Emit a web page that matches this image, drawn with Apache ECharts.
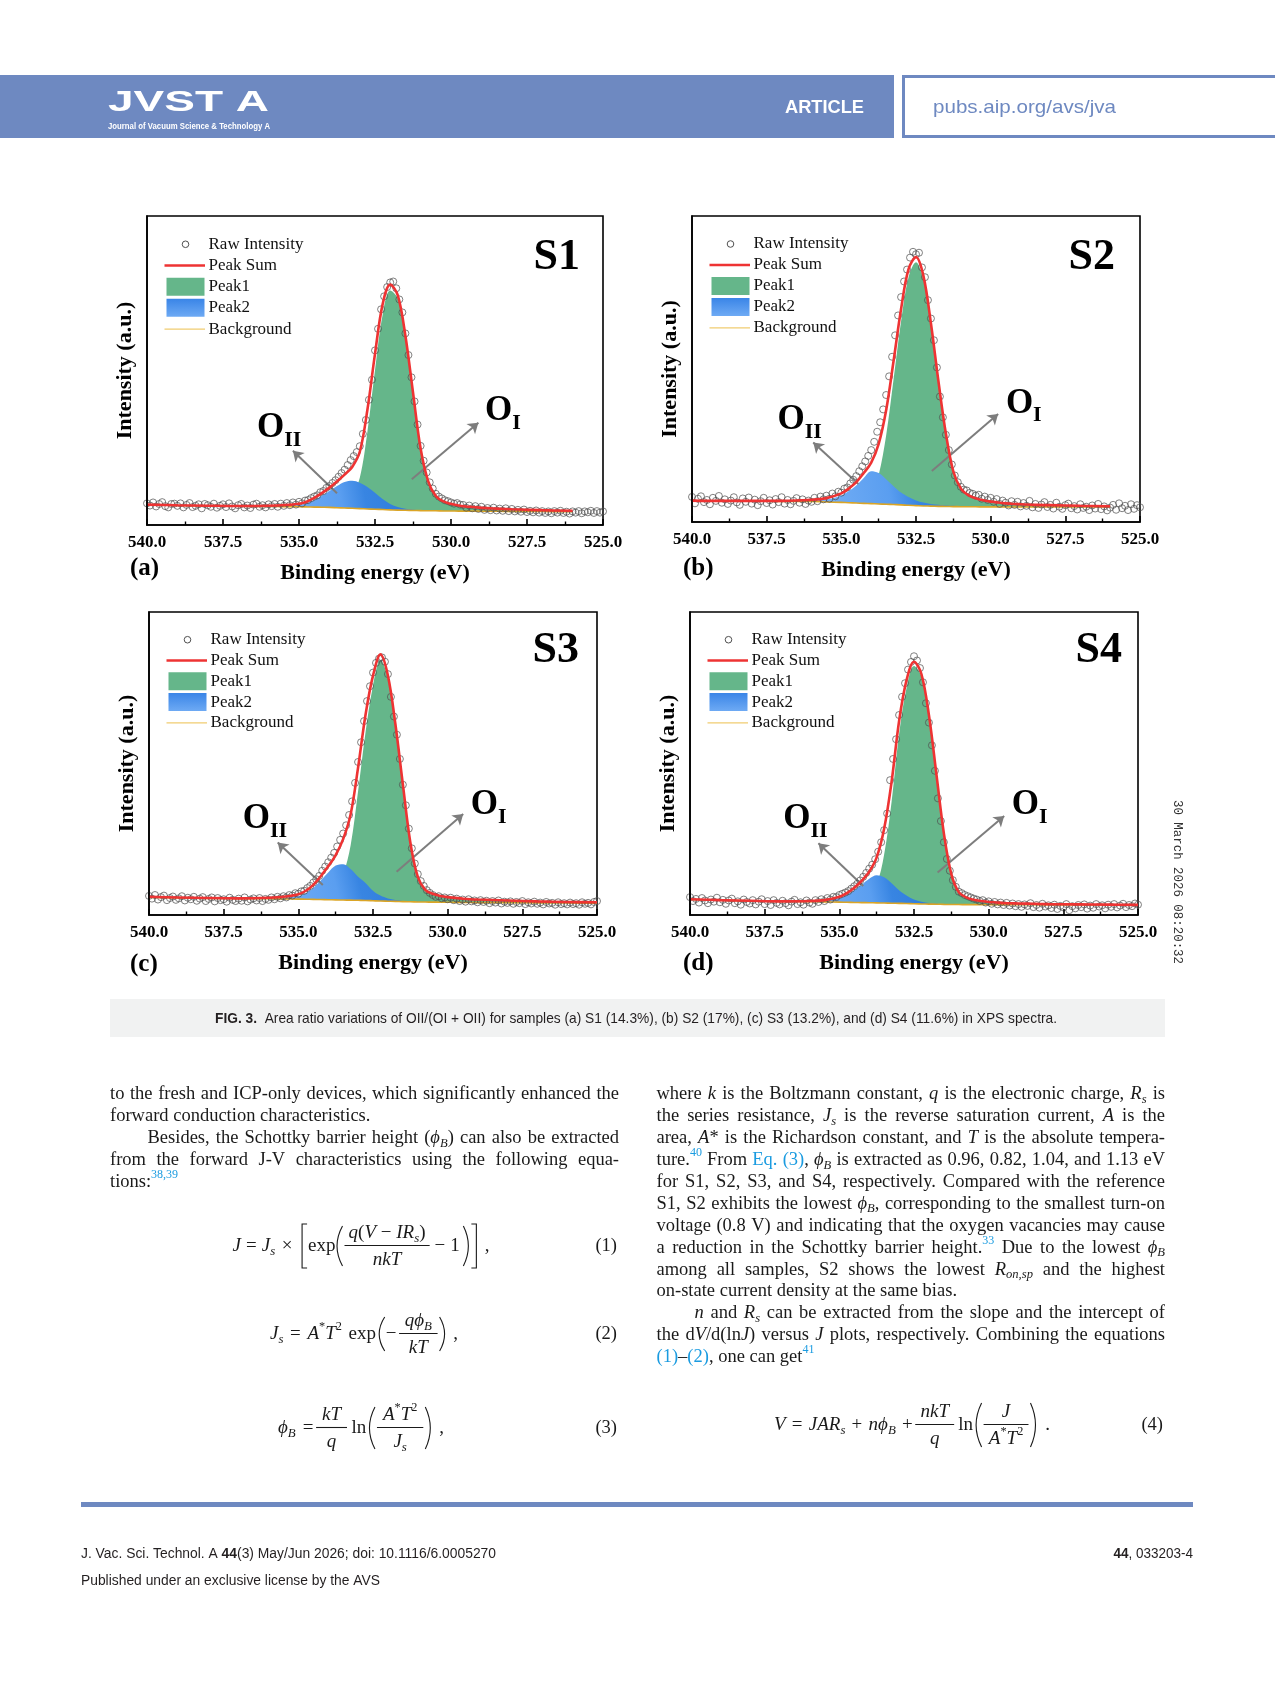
<!DOCTYPE html>
<html>
<head>
<meta charset="utf-8">
<title>XPS O 1s spectra S1-S4</title>
<script src="https://cdn.jsdelivr.net/npm/echarts@6.0.0/dist/echarts.min.js"></script>
<style>
html,body{margin:0;padding:0;background:#ffffff;}
#chart{width:1275px;height:1688px;}
</style>
</head>
<body>
<div id="chart"></div>
<script>
// ================= DATA (intensity in % of plot height) =================
const curveEnergy = [540,539,538,537,536,535.5,535,534.75,534.5,534.25,534,533.75,533.5,533.25,533,532.75,532.5,532.25,532,531.75,531.5,531.25,531,530.75,530.5,530.25,530,529.75,529.5,529.25,529,528.5,528,527,526,525];
const rawStart = 540, rawStep = 0.1;

// ---- S1 ----
const bgS1  = [6.5,6.3,6.15,6.05,6.0,5.95,5.9,5.85,5.8,5.75,5.7,5.6,5.5,5.4,5.3,5.2,5.1,5.0,4.9,4.8,4.75,4.7,4.65,4.6,4.6,4.55,4.55,4.5,4.5,4.5,4.45,4.45,4.4,4.35,4.3,null];
const p1S1  = [0,0,0,0.1,0.2,0.3,0.4,0.5,0.65,0.85,1.1,1.5,2.4,4.5,10,25,45,63,71,68.5,56,38,20,9.5,4.8,3.1,2.3,1.8,1.5,1.3,1.1,0.85,0.7,0.45,0.3,null];
const p2S1  = [null,null,null,null,0.05,0.2,0.6,1.2,2.3,3.7,5.3,7.0,8.4,8.9,8.4,7.1,5.3,3.4,1.9,1.0,0.5,0.2,0.1,0.05,null,null,null,null,null,null,null,null,null,null,null,null];
const sumS1 = [6.6,6.4,6.25,6.15,6.25,6.45,6.9,7.55,8.75,10.3,12.1,14.1,16.3,18.8,23.7,37.3,55.4,71.4,77.8,74.3,61.25,42.9,24.75,14.15,9.4,7.65,6.85,6.3,6.0,5.8,5.55,5.3,5.1,4.8,4.6,null];
const rawS1 = [7.0,6.3,7.3,6.0,6.8,7.4,6.1,5.7,6.8,6.9,
 6.2,7.0,5.7,6.5,7.1,5.8,6.2,6.7,5.4,6.8,
 6.4,5.9,6.9,5.6,6.2,6.7,5.8,7.0,6.0,5.4,
 6.4,6.8,5.7,6.3,5.5,6.6,6.9,5.9,6.4,5.7,
 6.7,6.1,6.8,5.9,6.9,6.2,7.1,6.4,7.3,6.6,
 7.5,7.0,7.9,8.1,8.7,9.2,9.6,10.6,11.0,12.0,
 12.6,13.6,14.5,15.6,16.8,17.9,19.4,21.0,22.3,23.6,
 25.5,29.5,34.0,40.5,47.0,56.5,63.5,69.8,74.0,77.0,
 78.5,78.8,76.6,73.0,68.8,62.0,55.0,47.8,40.0,32.5,
 25.6,20.8,17.0,13.8,11.8,10.1,9.2,8.6,8.0,7.7,
 7.3,6.9,7.1,6.6,6.5,5.6,6.3,5.4,6.1,5.2,
 5.9,4.9,5.5,4.8,5.6,4.7,5.3,4.6,5.4,4.5,
 5.2,4.4,4.9,4.3,5.0,4.2,4.6,4.1,4.7,4.0,
 4.5,3.9,4.4,3.8,4.5,4.0,4.6,3.9,4.3,3.7,
 4.4,4.0,4.5,3.8,4.4,4.1,4.6,3.9,4.5,4.0,
 4.4];

// ---- S2 ----
const bgS2  = [6.9,6.85,6.8,6.75,6.7,6.55,6.4,6.3,6.2,6.1,6.0,5.9,5.8,5.7,5.6,5.45,5.35,5.25,5.2,5.12,5.08,5.04,5.0,4.98,4.96,4.95,4.94,4.93,4.92,4.92,4.91,4.9,4.9,4.9,4.9,null];
const p1S2  = [0,0,0.1,0.15,0.35,0.45,0.65,0.85,1.1,1.6,2.8,9.5,22.5,41,60,74.5,79.5,74,59,40.5,23.5,11.2,5.8,3.7,2.7,2.1,1.7,1.4,1.2,1.0,0.9,0.7,0.6,0.4,0.25,null];
const p2S2  = [null,null,null,null,0.2,0.8,2.3,3.8,5.7,8.3,10.6,10.1,8.2,6.0,4.0,2.7,1.7,1.1,0.7,0.5,0.3,0.25,0.2,0.15,0.1,0.05,null,null,null,null,null,null,null,null,null,null];
const sumS2 = [7.0,6.9,6.9,6.9,7.25,7.8,9.35,10.95,13.0,16.0,19.4,25.5,36.5,52.7,69.6,82.65,86.55,80.35,64.9,46.1,28.9,16.5,11.0,8.8,7.75,7.1,6.65,6.35,6.1,5.9,5.8,5.6,5.5,5.3,5.15,null];
const rawS2 = [8.2,6.1,7.6,8.4,6.5,7.2,5.8,7.9,6.9,8.5,
 6.3,7.4,5.9,7.0,8.1,6.4,5.6,7.7,6.6,8.0,
 6.0,7.3,5.5,6.8,7.9,6.2,7.1,5.7,7.5,6.5,
 8.1,6.0,7.2,5.8,6.9,7.8,6.3,7.4,5.9,7.0,
 6.6,7.9,6.8,8.3,7.4,8.6,7.6,9.3,8.4,9.9,
 9.6,10.9,11.3,12.6,13.8,15.0,16.6,18.2,19.8,21.6,
 23.5,26.2,29.5,32.6,36.8,41.5,47.6,54.0,61.0,67.5,
 73.5,78.6,82.5,86.4,88.3,87.5,88.0,83.2,80.0,72.5,
 66.5,59.4,50.5,41.0,34.2,28.5,23.5,18.8,15.2,13.0,
 11.5,10.6,10.3,9.5,9.2,8.6,8.9,7.6,8.3,7.2,
 7.9,6.6,7.5,5.9,7.0,6.3,5.4,6.8,5.6,6.6,
 5.1,6.2,5.3,6.9,4.8,5.9,4.6,5.7,6.5,4.9,
 5.6,4.4,6.3,5.0,4.3,5.5,6.0,4.5,5.2,4.1,
 5.8,4.6,5.0,3.9,5.4,4.4,5.9,4.2,5.1,3.8,
 4.7,5.6,4.0,6.1,4.5,5.3,3.9,5.8,4.3,5.5,
 4.8];

// ---- S3 ----
const bgS3  = [5.8,5.6,5.5,5.4,5.35,5.3,5.25,5.2,5.15,5.1,5.05,5.0,4.95,4.9,4.85,4.8,4.7,4.6,4.55,4.5,4.4,4.35,4.3,4.28,4.25,4.22,4.2,4.18,4.15,4.12,4.1,4.08,4.05,4.0,3.95,3.9];
const p1S3  = [0,0,0,0.1,0.25,0.4,0.6,0.8,1.0,1.4,2.0,3.5,8.3,18,36,55.5,71,79.6,73.5,58,38.5,19.5,8.2,4.0,2.75,2.1,1.7,1.45,1.25,1.1,1.0,0.85,0.75,0.5,0.35,0.3];
const p2S3  = [null,null,null,null,0.1,0.3,1.0,2.0,3.8,6.3,9.0,11.3,11.8,10.3,7.8,5.8,3.3,1.8,0.9,0.45,0.2,0.1,0.05,null,null,null,null,null,null,null,null,null,null,null,null,null];
const sumS3 = [6.0,5.8,5.6,5.5,5.7,6.0,6.85,8.0,9.95,12.8,16.05,19.8,25.05,33.2,48.65,66.1,79.0,86.0,78.95,62.95,43.1,23.95,12.55,8.3,7.0,6.3,5.9,5.65,5.4,5.2,5.1,4.95,4.8,4.5,4.3,4.2];
const rawS3 = [6.3,5.4,6.6,5.1,5.9,6.4,4.9,5.6,6.1,5.0,
 5.5,6.2,4.8,5.7,5.2,6.0,4.7,5.4,5.9,4.6,
 5.3,5.8,4.5,5.6,4.9,5.2,4.4,5.7,5.0,4.6,
 5.4,4.7,5.8,4.5,5.1,5.5,4.8,5.6,4.6,5.3,
 5.0,5.8,5.2,6.0,5.5,6.2,5.8,6.6,6.4,7.2,
 7.0,7.8,8.0,8.9,9.6,10.7,11.8,12.9,14.6,16.0,
 17.4,18.9,20.5,22.6,24.8,26.9,29.6,33.0,37.5,43.6,
 50.5,57.0,64.0,70.6,75.5,80.0,83.2,84.6,85.0,83.6,
 79.5,72.0,65.5,59.5,51.5,43.0,36.2,28.5,22.0,17.0,
 13.5,11.2,9.6,8.2,7.3,6.6,6.0,6.2,5.5,5.8,
 5.2,5.7,4.9,5.4,4.6,5.1,4.4,5.2,4.5,4.8,
 4.2,4.9,4.3,4.7,3.9,4.6,4.1,4.8,3.8,4.4,
 4.0,4.5,3.7,4.3,3.9,4.6,3.6,4.2,3.8,4.4,
 3.7,4.1,3.5,4.3,3.8,4.0,3.4,4.2,3.6,3.9,
 3.5,4.1,3.6,3.9,3.4,4.2,3.7,4.0,3.5,4.3,
 4.6];

// ---- S4 ----
const bgS4  = [5.1,4.85,4.65,4.5,4.4,4.32,4.25,4.2,4.15,4.1,4.05,4.0,3.95,3.9,3.85,3.8,3.7,3.65,3.6,3.55,3.5,3.47,3.45,3.43,3.42,3.41,3.4,3.39,3.38,3.38,3.37,3.36,3.35,3.33,3.32,3.3];
const p1S4  = [0,0,0,0,0.1,0.2,0.35,0.5,0.85,1.3,2.3,5.9,16,33.5,55.8,71.1,78.5,75.1,62,42.8,23.4,10,4.05,2.4,1.6,1.2,0.9,0.75,0.6,0.5,0.45,0.35,0.25,0.17,0.1,0.05];
const p2S4  = [null,null,null,null,0.1,0.4,1.4,2.5,4.0,5.9,7.9,9.1,8.5,6.6,4.3,2.6,1.4,0.7,0.35,0.15,0.05,null,null,null,null,null,null,null,null,null,null,null,null,null,null,null];
const sumS4 = [5.2,4.9,4.7,4.5,4.6,4.9,6.0,7.2,9.0,11.3,14.25,19.0,28.45,44.0,63.95,77.5,83.6,79.45,65.95,46.5,26.95,13.47,7.5,5.83,5.02,4.61,4.3,4.14,3.98,3.88,3.82,3.71,3.6,3.5,3.42,3.35];
const rawS4 = [5.9,4.6,5.3,4.1,5.6,4.8,3.9,5.1,4.4,5.7,
 4.2,5.0,3.7,4.8,5.4,3.9,4.5,3.4,5.1,4.3,
 3.8,4.9,3.5,4.4,5.2,3.6,4.6,3.3,4.9,4.0,
 3.5,4.7,3.9,3.2,4.4,5.0,3.6,4.2,3.4,4.8,
 4.1,3.7,4.9,4.3,5.2,4.6,5.6,5.1,6.0,5.9,
 6.6,7.0,7.4,7.9,8.7,9.5,10.3,11.4,12.6,13.9,
 15.3,16.6,18.4,20.9,24.0,28.0,33.5,44.5,51.5,58.0,
 66.0,72.0,76.5,81.0,83.5,85.4,84.0,81.5,76.8,69.9,
 63.5,56.0,47.6,38.5,31.0,24.0,18.5,14.6,11.5,9.3,
 7.7,7.2,6.6,6.2,5.8,5.4,5.1,4.6,4.9,4.1,
 4.5,3.7,4.3,3.5,4.1,3.3,4.0,3.1,3.8,2.9,
 3.6,2.7,3.5,3.0,3.9,2.6,3.3,2.4,3.7,2.8,
 3.2,2.3,3.4,2.0,3.0,2.5,3.6,1.6,2.9,2.2,
 3.3,2.6,3.5,2.1,3.1,2.4,3.6,2.8,3.2,2.2,
 3.4,2.7,3.6,2.5,3.1,3.7,2.6,3.3,2.9,3.8,
 3.4];

const sampleNames = ['S1','S2','S3','S4'];
const panelTags = ['(a)','(b)','(c)','(d)'];
const legendNames = ['Raw Intensity','Peak Sum','Peak1','Peak2','Background'];
const xAxisTitle = 'Binding energy (eV)';
const yAxisTitle = 'Intensity (a.u.)';
// annotation anchors in data units: label "O" left-centre, arrows [x1,y1,x2(head),y2(head)]
const annotOII = [[536.38,31.3],[537.14,33.3],[536.86,31.7],[536.88,31.7]];
const annotOI  = [[528.88,36.8],[529.49,38.7],[529.23,36.3],[529.23,36.3]];
const arrowOII = [[533.75,10.3,535.2,24.0],[534.43,12.4,535.94,26.0],[534.18,9.9,535.69,23.9],[534.2,9.6,535.7,23.7]];
const arrowOI  = [[531.29,14.8,529.10,33.1],[531.97,16.7,529.75,35.3],[531.71,14.3,529.48,33.3],[531.71,14.0,529.48,32.7]];

// ================= STYLE / LAYOUT =================
const SERIF = "'Liberation Serif','Times New Roman',serif";
const SANS = "'Liberation Sans',Arial,sans-serif";
const MONO = "'Liberation Mono','DejaVu Sans Mono',monospace";
const INK = '#1a1a1a', LINK = '#1a9be0', HDR = '#6e89c1';
const GREEN = '#65b68a', RED = '#ee3333', BGC = '#dba526', CIRC = '#505050';

const panels = [
  {bg:bgS1,p1:p1S1,p2:p2S1,sum:sumS1,raw:rawS1},
  {bg:bgS2,p1:p1S2,p2:p2S2,sum:sumS2,raw:rawS2},
  {bg:bgS3,p1:p1S3,p2:p2S3,sum:sumS3,raw:rawS3},
  {bg:bgS4,p1:p1S4,p2:p2S4,sum:sumS4,raw:rawS4}
];
const layout = [
  {left:147, top:216, width:456, height:309, tag:[130,569], sRight:580,  sY:258},
  {left:692, top:216, width:448, height:306, tag:[683,569], sRight:1115, sY:258},
  {left:149, top:612, width:448, height:303, tag:[130,965], sRight:579,  sY:651},
  {left:690, top:612, width:448, height:303, tag:[683,964], sRight:1122, sY:651}
];

const rawEnergy = rawS1.map((_, i) => +(rawStart - rawStep * i).toFixed(1));
// curve data stored as [intensity, energy] so that stacking happens on the intensity dimension
const yx = ys => curveEnergy.map((x, i) => [ys[i], x]);
const xy = (xs, ys) => xs.map((x, i) => [x, ys[i]]);

const chart = echarts.init(document.getElementById('chart'), null, {renderer:'canvas', width:1275, height:1688});

function blueGrad(){
  return new echarts.graphic.LinearGradient(0, 1, 1, 0, [
    {offset:0, color:'#78b1f6'}, {offset:0.45, color:'#5a9ef0'},
    {offset:0.6, color:'#3885e2'}, {offset:1, color:'#2a78d7'}]);
}

const grids = [], xAxes = [], yAxes = [], series = [];
layout.forEach((g, k) => {
  grids.push({left:g.left, top:g.top, width:g.width, height:g.height, show:true,
    borderColor:'#000', borderWidth:1.6, backgroundColor:'rgba(0,0,0,0)', containLabel:false, outerBoundsMode:'none'});
  xAxes.push({gridIndex:k, type:'value', min:525, max:540, interval:2.5, inverse:true, position:'bottom', z:20,
    axisLine:{show:true, onZero:false, lineStyle:{color:'#000', width:1.6}},
    axisTick:{show:true, inside:true, length:6, lineStyle:{color:'#000', width:1.6}},
    minorTick:{show:true, splitNumber:2, length:3.5, lineStyle:{color:'#000', width:1.4}},
    axisLabel:{show:true, margin:9, showMinLabel:true, showMaxLabel:true, hideOverlap:false,
      formatter:v => v.toFixed(1), fontFamily:SERIF, fontWeight:'bold', fontSize:17, color:'#000'},
    splitLine:{show:false}, minorSplitLine:{show:false},
    name:xAxisTitle, nameLocation:'middle', nameGap:37,
    nameTextStyle:{fontFamily:SERIF, fontWeight:'bold', fontSize:22, color:'#000'}});
  yAxes.push({gridIndex:k, type:'value', min:0, max:100, z:20,
    axisLine:{show:true, onZero:false, lineStyle:{color:'#000', width:1.6}},
    axisTick:{show:false}, axisLabel:{show:false}, splitLine:{show:false},
    name:yAxisTitle, nameLocation:'middle', nameGap:11, nameRotate:90,
    nameTextStyle:{fontFamily:SERIF, fontWeight:'bold', fontSize:22, color:'#000'}});

  const P = panels[k], sm = 0.35;
  const common = {xAxisIndex:k, yAxisIndex:k, symbol:'none', smooth:sm, silent:true, animation:false,
    encode:{x:1, y:0}, stackStrategy:'all'};
  series.push(Object.assign({type:'line', name:'base1-'+k, stack:'pk1-'+k, data:yx(P.bg),
    lineStyle:{width:0, opacity:0}, z:2}, common));
  series.push(Object.assign({type:'line', name:'Peak1', stack:'pk1-'+k, data:yx(P.p1),
    lineStyle:{width:0, opacity:0}, areaStyle:{color:GREEN, opacity:1}, z:2}, common));
  series.push(Object.assign({type:'line', name:'base2-'+k, stack:'pk2-'+k, data:yx(P.bg),
    lineStyle:{width:0, opacity:0}, z:3}, common));
  series.push(Object.assign({type:'line', name:'Peak2', stack:'pk2-'+k, data:yx(P.p2),
    lineStyle:{width:0, opacity:0}, areaStyle:{color:blueGrad(), opacity:1}, z:3}, common));
  series.push(Object.assign({type:'line', name:'Background', data:yx(P.bg),
    lineStyle:{color:BGC, width:1.6}, z:4}, common));
  series.push({type:'scatter', name:'Raw Intensity', xAxisIndex:k, yAxisIndex:k, silent:true, animation:false,
    data:xy(rawEnergy,P.raw), symbol:'circle', symbolSize:7,
    itemStyle:{color:'rgba(255,255,255,0)', borderColor:CIRC, borderWidth:0.9}, z:5,
    markLine:{silent:true, animation:false, symbol:['none','arrow'], symbolSize:10,
      label:{show:false}, lineStyle:{color:'#7d7d7d', width:2, type:'solid'},
      emphasis:{disabled:true},
      data:[arrowOII[k], arrowOI[k]].map(a => [{coord:[a[0],a[1]]},{coord:[a[2],a[3]]}])}});
  series.push(Object.assign({type:'line', name:'Peak Sum', data:yx(P.sum),
    lineStyle:{color:RED, width:2.6}, z:6}, common));
});

chart.setOption({
  animation:false,
  backgroundColor:'#ffffff',
  textStyle:{fontFamily:SERIF},
  grid:grids, xAxis:xAxes, yAxis:yAxes, series:series
});

// ================= TEXT / DECORATION =================
const mctx = document.createElement('canvas').getContext('2d');
function mw(text, font){ mctx.font = font; return mctx.measureText(text).width; }
function T(text, x, y, font, fill, align, extra){
  return Object.assign({type:'text', x:x, y:y, silent:true, z:100,
    style:{text:text, font:font, fill:fill||INK, textAlign:align||'left', textVerticalAlign:'middle',
      align:align||'left', verticalAlign:'middle'}}, extra||{});
}
function fitRun(parts, x, y, targetW, align, extra){
  const ws = parts.map(p => mw(p.t, p.font));
  const tot = ws.reduce((a,b)=>a+b, 0);
  const s = targetW ? targetW / tot : 1;
  let cx = align === 'right' ? x - tot*s : (align === 'center' ? x - tot*s/2 : x);
  return parts.map((p, i) => { const e = T(p.t, cx, y, p.font, p.fill, 'left', Object.assign({scaleX:s}, extra||{})); cx += ws[i]*s; return e; });
}
const STY = size => ({
  r:  {font:'normal normal '+size+'px '+SERIF, fill:INK, dy:0},
  i:  {font:'italic normal '+size+'px '+SERIF, fill:INK, dy:0},
  si: {font:'italic normal '+(size*0.68).toFixed(1)+'px '+SERIF, fill:INK, dy:size*0.27},
  sr: {font:'normal normal '+(size*0.68).toFixed(1)+'px '+SERIF, fill:INK, dy:size*0.27},
  sp: {font:'normal normal '+(size*0.65).toFixed(1)+'px '+SERIF, fill:INK, dy:-size*0.38},
  sup:{font:'normal normal '+(size*0.65).toFixed(1)+'px '+SERIF, fill:LINK, dy:-size*0.38},
  l:  {font:'normal normal '+size+'px '+SERIF, fill:LINK, dy:0}
});
const BODY = 18.5, MATH = 19;
function richLine(markup, x, y, width, justify){
  const segs = []; const re = /\{(\w+)\|([^}]*)\}/g; let last = 0, m;
  while ((m = re.exec(markup))) { if (m.index > last) segs.push(['r', markup.slice(last, m.index)]); segs.push([m[1], m[2]]); last = re.lastIndex; }
  if (last < markup.length) segs.push(['r', markup.slice(last)]);
  const atoms = [];
  segs.forEach(([st, txt]) => txt.split(/( )/).forEach(p => { if (p === '') return; atoms.push(p === ' ' ? {space:true} : {st:st, t:p}); }));
  const sty = STY(BODY); const spW = mw(' ', sty.r.font);
  let nat = 0, nsp = 0;
  atoms.forEach(a => { if (a.space) { nat += spW; nsp++; } else { a.w = mw(a.t, sty[a.st].font); nat += a.w; } });
  const extra = (justify && nsp) ? (width - nat) / nsp : 0;
  let cx = x; const els = [];
  atoms.forEach(a => {
    if (a.space) { cx += spW + extra; return; }
    const s = sty[a.st];
    els.push(T(a.t, cx, y + s.dy, s.font, s.fill));
    cx += a.w;
  });
  return els;
}
// equation layout: gaps (g) and fraction padding are stretched so the formula spans `target` px
function equation(items, x0, y, size, target){
  const sty = STY(size); const els = []; let cx = x0;
  const FP = 8;
  const runW = ps => ps.reduce((s, p) => s + mw(p[1], sty[p[0]].font), 0);
  const drawRun = (ps, sx, sy) => { let c = sx; ps.forEach(p => { const s = sty[p[0]]; els.push(T(p[1], c, sy + s.dy, s.font, s.fill)); c += mw(p[1], s.font); }); };
  let nat = 0, stretch = 0;
  items.forEach(it => {
    if (it.g !== undefined) { nat += it.g; stretch += it.g; }
    else if (it.s) nat += runW(it.s);
    else if (it.frac) { nat += Math.max(runW(it.frac[0]), runW(it.frac[1])) + FP; stretch += FP; }
    else if (it.p) nat += 8;
  });
  const f = (target && stretch) ? Math.max(0.4, Math.min(1.8, (target - (nat - stretch)) / stretch)) : 1;
  items.forEach(it => {
    if (it.g !== undefined) { cx += it.g * f; return; }
    if (it.s) { drawRun(it.s, cx, y); cx += runW(it.s); return; }
    if (it.frac) {
      const wn = runW(it.frac[0]), wd = runW(it.frac[1]); const w = Math.max(wn, wd) + FP * f;
      drawRun(it.frac[0], cx + (w - wn)/2, y - 13);
      drawRun(it.frac[1], cx + (w - wd)/2, y + 14);
      els.push({type:'line', z:100, silent:true, shape:{x1:cx+1, y1:y-0.5, x2:cx+w-1, y2:y-0.5}, style:{stroke:INK, lineWidth:1.1}});
      cx += w; return;
    }
    if (it.p) {
      const h = it.h, w = 7, t = y - h/2, b = y + h/2;
      if (it.p === '(') els.push({type:'bezierCurve', z:100, silent:true, shape:{x1:cx+w, y1:t, x2:cx+w, y2:b, cpx1:cx-4, cpy1:y}, style:{stroke:INK, lineWidth:1.1, fill:'none'}});
      if (it.p === ')') els.push({type:'bezierCurve', z:100, silent:true, shape:{x1:cx+1, y1:t, x2:cx+1, y2:b, cpx1:cx+w+4, cpy1:y}, style:{stroke:INK, lineWidth:1.1, fill:'none'}});
      if (it.p === '[') els.push({type:'polyline', z:100, silent:true, shape:{points:[[cx+w,t],[cx+2,t],[cx+2,b],[cx+w,b]]}, style:{stroke:INK, lineWidth:1.1, fill:'none'}});
      if (it.p === ']') els.push({type:'polyline', z:100, silent:true, shape:{points:[[cx+1,t],[cx+w-1,t],[cx+w-1,b],[cx+1,b]]}, style:{stroke:INK, lineWidth:1.1, fill:'none'}});
      cx += w + 1; return;
    }
  });
  return els;
}

// ---- page text content ----
const leftColumnLines = [
  {t:'to the fresh and ICP-only devices, which significantly enhanced the', j:true},
  {t:'forward conduction characteristics.', j:false},
  {t:'Besides, the Schottky barrier height ({i|ϕ}{si|B}) can also be extracted', j:true, ind:true},
  {t:'from the forward J-V characteristics using the following equa-', j:true},
  {t:'tions:{sup|38,39}', j:false}
];
const rightColumnLines = [
  {t:'where {i|k} is the Boltzmann constant, {i|q} is the electronic charge, {i|R}{si|s} is', j:true},
  {t:'the series resistance, {i|J}{si|s} is the reverse saturation current, {i|A} is the', j:true},
  {t:'area, {i|A}* is the Richardson constant, and {i|T} is the absolute tempera-', j:true},
  {t:'ture.{sup|40} From {l|Eq.} {l|(3)}, {i|ϕ}{si|B} is extracted as 0.96, 0.82, 1.04, and 1.13 eV', j:true},
  {t:'for S1, S2, S3, and S4, respectively. Compared with the reference', j:true},
  {t:'S1, S2 exhibits the lowest {i|ϕ}{si|B}, corresponding to the smallest turn-on', j:true},
  {t:'voltage (0.8 V) and indicating that the oxygen vacancies may cause', j:true},
  {t:'a reduction in the Schottky barrier height.{sup|33} Due to the lowest {i|ϕ}{si|B}', j:true},
  {t:'among all samples, S2 shows the lowest {i|R}{si|on,sp} and the highest', j:true},
  {t:'on-state current density at the same bias.', j:false},
  {t:'{i|n} and {i|R}{si|s} can be extracted from the slope and the intercept of', j:true, ind:true},
  {t:'the d{i|V}/d(ln{i|J}) versus {i|J} plots, respectively. Combining the equations', j:true},
  {t:'{l|(1)}–{l|(2)}, one can get{sup|41}', j:false}
];
const eq1 = [{s:[['i','J']]},{g:4},{s:[['r','=']]},{g:4},{s:[['i','J'],['si','s']]},{g:5},{s:[['r','×']]},{g:6},{p:'[',h:44},{s:[['r','exp']]},{p:'(',h:40},
  {frac:[[['i','q'],['r','('],['i','V'],['r',' − '],['i','IR'],['si','s'],['r',')']],[['i','nkT']]]},{g:3},{s:[['r','−']]},{g:4},{s:[['r','1']]},{g:2},{p:')',h:40},{p:']',h:44},{g:5},{s:[['r',',']]}];
const eq2 = [{s:[['i','J'],['si','s']]},{g:4},{s:[['r','=']]},{g:4},{s:[['i','A'],['sp','*'],['i','T'],['sp','2']]},{g:4},{s:[['r','exp']]},{g:1},{p:'(',h:34},{s:[['r','−']]},{g:1},
  {frac:[[['i','qϕ'],['si','B']],[['i','kT']]]},{p:')',h:34},{g:4},{s:[['r',',']]}];
const eq3 = [{s:[['i','ϕ'],['si','B']]},{g:4},{s:[['r','=']]},{g:1},{frac:[[['i','kT']],[['i','q']]]},{g:2},{s:[['r','ln']]},{g:1},{p:'(',h:42},
  {frac:[[['i','A'],['sp','*'],['i','T'],['sp','2']],[['i','J'],['si','s']]]},{p:')',h:42},{g:4},{s:[['r',',']]}];
const eq4 = [{s:[['i','V']]},{g:4},{s:[['r','=']]},{g:4},{s:[['i','JAR'],['si','s']]},{g:4},{s:[['r','+']]},{g:4},{s:[['i','nϕ'],['si','B']]},{g:4},{s:[['r','+']]},{g:1},
  {frac:[[['i','nkT']],[['i','q']]]},{g:2},{s:[['r','ln']]},{g:1},{p:'(',h:44},{frac:[[['i','J']],[['i','A'],['sp','*'],['i','T'],['sp','2']]]},{p:')',h:44},{g:5},{s:[['r','.']]}];

function buildGraphics(){
  const G = [];
  // header
  G.push({type:'rect', z:90, silent:true, shape:{x:0, y:75, width:894, height:63}, style:{fill:HDR}});
  G.push({type:'rect', z:90, silent:true, shape:{x:903.5, y:76.5, width:380, height:60}, style:{fill:'#ffffff', stroke:HDR, lineWidth:3}});
  G.push(...fitRun([{t:'JVST A', font:'normal bold 29px '+SANS, fill:'#ffffff'}], 108, 103, 161, 'left'));
  G.push(...fitRun([{t:'Journal of Vacuum Science & Technology A', font:'normal bold 9px '+SANS, fill:'#ffffff'}], 108, 126.5, 162, 'left'));
  G.push(...fitRun([{t:'ARTICLE', font:'normal bold 19px '+SANS, fill:'#ffffff'}], 785, 108, 79, 'left'));
  G.push(...fitRun([{t:'pubs.aip.org/avs/jva', font:'normal normal 19px '+SANS, fill:HDR}], 933, 108, 183, 'left'));

  // panels
  layout.forEach((g, k) => {
    G.push(T(sampleNames[k], g.sRight, g.sY, 'normal bold 44px '+SERIF, '#000', 'right'));
    G.push(T(panelTags[k], g.tag[0], g.tag[1], 'normal bold 25px '+SERIF, '#000', 'left'));
    const L = g.left, H = g.height, row = j => g.top + H*(0.0915 + 0.0686*j);
    G.push({type:'circle', z:100, silent:true, shape:{cx:L+38.5, cy:row(0), r:3.3}, style:{fill:'none', stroke:CIRC, lineWidth:1}});
    G.push({type:'line', z:100, silent:true, shape:{x1:L+17.5, y1:row(1), x2:L+58, y2:row(1)}, style:{stroke:RED, lineWidth:2.6}});
    G.push({type:'rect', z:100, silent:true, shape:{x:L+19.5, y:row(2)-9, width:38, height:18}, style:{fill:GREEN}});
    G.push({type:'rect', z:100, silent:true, shape:{x:L+19.5, y:row(3)-9, width:38, height:18},
      style:{fill:{type:'linear', x:0, y:0, x2:0, y2:1, colorStops:[{offset:0, color:'#3a85e7'},{offset:1, color:'#6eaaf4'}]}}});
    G.push({type:'line', z:100, silent:true, shape:{x1:L+17.5, y1:row(4), x2:L+58, y2:row(4)}, style:{stroke:'#f0cc70', lineWidth:1.2}});
    legendNames.forEach((n, j) => G.push(T(n, L+61.5, row(j), 'normal normal 17px '+SERIF, '#111')));
    // O_II / O_I labels
    const fO = 'normal bold 35px '+SERIF, fS = 'normal bold 22px '+SERIF, wO = mw('O', fO);
    const a = chart.convertToPixel({gridIndex:k}, annotOII[k]);
    G.push(T('O', a[0], a[1], fO, '#000'), T('II', a[0]+wO, a[1]+12, fS, '#000'));
    const b = chart.convertToPixel({gridIndex:k}, annotOI[k]);
    G.push(T('O', b[0], b[1], fO, '#000'), T('I', b[0]+wO, b[1]+12, fS, '#000'));
  });

  // caption
  G.push({type:'rect', z:90, silent:true, shape:{x:110, y:999, width:1055, height:38}, style:{fill:'#f1f2f2'}});
  G.push(...fitRun([
    {t:'FIG. 3.', font:'normal bold 15px '+SANS, fill:'#231f20'},
    {t:'  Area ratio variations of OII/(OI + OII) for samples (a) S1 (14.3%), (b) S2 (17%), (c) S3 (13.2%), and (d) S4 (11.6%) in XPS spectra.', font:'normal normal 15px '+SANS, fill:'#231f20'}
  ], 215, 1019, 842, 'left'));

  // body text
  const lineY = i => 1094.5 + 21.9*i;
  leftColumnLines.forEach((ln, i) => { const x = ln.ind ? 147.5 : 110; G.push(...richLine(ln.t, x, lineY(i), 619 - x, ln.j)); });
  rightColumnLines.forEach((ln, i) => { const x = ln.ind ? 694.5 : 656.5; G.push(...richLine(ln.t, x, lineY(i), 1165 - x, ln.j)); });

  // equations
  G.push(...equation(eq1, 232.5, 1246, MATH, 257));
  G.push(...equation(eq2, 270, 1334, MATH, 188));
  G.push(...equation(eq3, 278, 1428, MATH, 166));
  G.push(...equation(eq4, 774, 1425, MATH, 276));
  const fr = 'normal normal '+BODY+'px '+SERIF;
  G.push(T('(1)', 617, 1246, fr, INK, 'right'), T('(2)', 617, 1334, fr, INK, 'right'),
         T('(3)', 617, 1428, fr, INK, 'right'), T('(4)', 1163, 1425, fr, INK, 'right'));

  // footer
  G.push({type:'rect', z:90, silent:true, shape:{x:81, y:1502, width:1112, height:5}, style:{fill:HDR}});
  G.push(...fitRun([
    {t:'J. Vac. Sci. Technol. A ', font:'normal normal 14px '+SANS, fill:'#231f20'},
    {t:'44', font:'normal bold 14px '+SANS, fill:'#231f20'},
    {t:'(3) May/Jun 2026; doi: 10.1116/6.0005270', font:'normal normal 14px '+SANS, fill:'#231f20'}
  ], 81, 1554, 415, 'left'));
  G.push(...fitRun([
    {t:'44', font:'normal bold 14px '+SANS, fill:'#231f20'},
    {t:', 033203-4', font:'normal normal 14px '+SANS, fill:'#231f20'}
  ], 1193, 1554, 79.5, 'right'));
  G.push(...fitRun([{t:'Published under an exclusive license by the AVS', font:'normal normal 14px '+SANS, fill:'#231f20'}], 81, 1581, 299, 'left'));

  // side stamp (rotated)
  G.push(...fitRun([{t:'30 March 2026 08:20:32', font:'normal normal 12px '+MONO, fill:'#333333'}], 1177, 800, 164, 'left', {rotation:-Math.PI/2}));
  return G;
}

chart.setOption({graphic:{elements:buildGraphics()}});
</script>
</body>
</html>
